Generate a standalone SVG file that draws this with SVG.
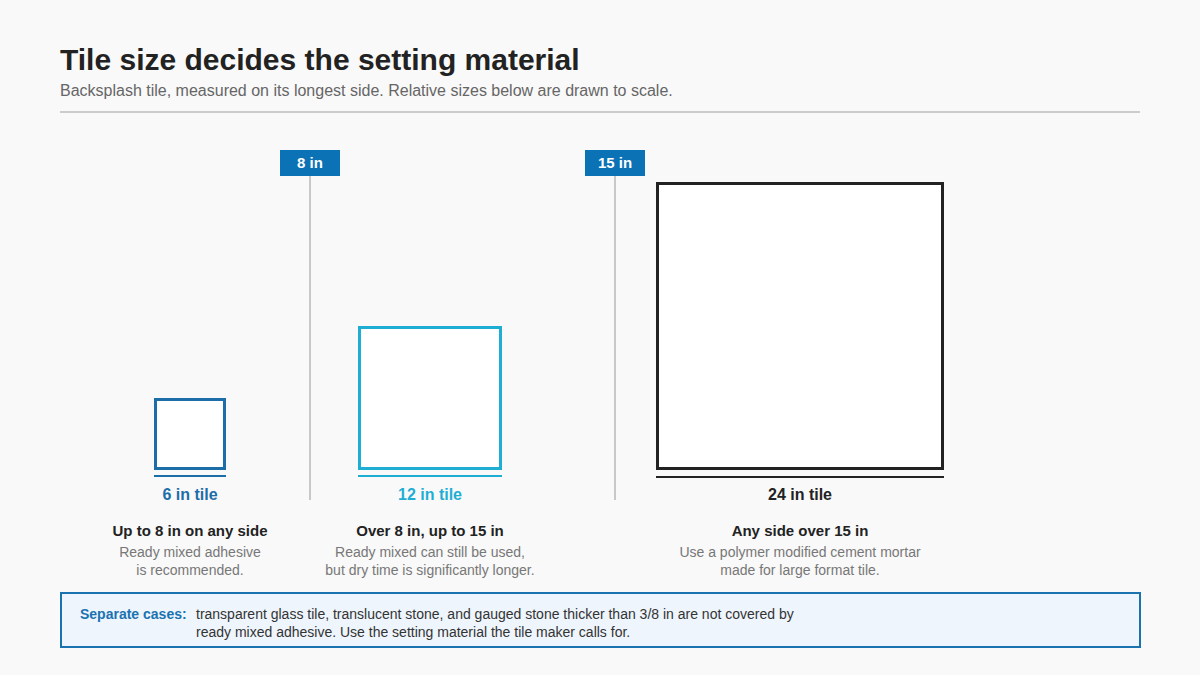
<svg xmlns="http://www.w3.org/2000/svg" width="1200" height="675" viewBox="0 0 1200 675">
<style>
text{font-family:"Liberation Sans",Arial,sans-serif}
.title{font-size:30px;font-weight:bold;fill:#222}
.sub{font-size:16px;fill:#666}
.badge{fill:#0b72b5}
.btxt{font-size:15px;font-weight:bold;fill:#fff;text-anchor:middle}
.mark{stroke:#c8c8c8;stroke-width:2}
.lab{font-size:16px;font-weight:bold;text-anchor:middle}
.head{font-size:15px;font-weight:bold;fill:#222;text-anchor:middle}
.desc{font-size:14px;fill:#777;text-anchor:middle}
.note{font-size:14px;fill:#333}
</style>
<rect width="1200" height="675" fill="#f9f9f9"/>
<text class="title" x="60" y="70">Tile size decides the setting material</text>
<text class="sub" x="60" y="96">Backsplash tile, measured on its longest side. Relative sizes below are drawn to scale.</text>
<line x1="60" y1="112" x2="1140" y2="112" stroke="#cccccc" stroke-width="2"/>
<g id="threshold-8">
<line class="mark" x1="310" y1="176" x2="310" y2="500"/>
<rect class="badge" x="280" y="150" width="60" height="26"/>
<text class="btxt" x="310" y="168">8 in</text>
</g>
<g id="threshold-15">
<line class="mark" x1="615" y1="176" x2="615" y2="500"/>
<rect class="badge" x="585" y="150" width="60" height="26"/>
<text class="btxt" x="615" y="168">15 in</text>
</g>
<g id="tile-6">
<rect x="155.5" y="399.5" width="69" height="69" fill="#fff" stroke="#1b6ea8" stroke-width="3"/>
<line x1="154" y1="476" x2="226" y2="476" stroke="#1b6ea8" stroke-width="2"/>
<text class="lab" x="190" y="500" fill="#1b6ea8">6 in tile</text>
<text class="head" x="190" y="536">Up to 8 in on any side</text>
<text class="desc" x="190" y="557">Ready mixed adhesive</text>
<text class="desc" x="190" y="575">is recommended.</text>
</g>
<g id="tile-12">
<rect x="359.5" y="327.5" width="141" height="141" fill="#fff" stroke="#1faed3" stroke-width="3"/>
<line x1="358" y1="476" x2="502" y2="476" stroke="#1faed3" stroke-width="2"/>
<text class="lab" x="430" y="500" fill="#1faed3">12 in tile</text>
<text class="head" x="430" y="536">Over 8 in, up to 15 in</text>
<text class="desc" x="430" y="557">Ready mixed can still be used,</text>
<text class="desc" x="430" y="575">but dry time is significantly longer.</text>
</g>
<g id="tile-24">
<rect x="657.5" y="183.5" width="285" height="285" fill="#fff" stroke="#222" stroke-width="3"/>
<line x1="656" y1="477" x2="944" y2="477" stroke="#222" stroke-width="2"/>
<text class="lab" x="800" y="500" fill="#222">24 in tile</text>
<text class="head" x="800" y="536">Any side over 15 in</text>
<text class="desc" x="800" y="557">Use a polymer modified cement mortar</text>
<text class="desc" x="800" y="575">made for large format tile.</text>
</g>
<g id="note">
<rect x="61" y="593" width="1079" height="54" fill="#eef5fd" stroke="#1a72b0" stroke-width="2"/>
<text class="note" x="80" y="619" font-weight="bold" style="fill:#1a72b0">Separate cases:</text>
<text class="note" x="196" y="619">transparent glass tile, translucent stone, and gauged stone thicker than 3/8 in are not covered by</text>
<text class="note" x="196" y="637">ready mixed adhesive. Use the setting material the tile maker calls for.</text>
</g>
<g id="connectors"></g>
</svg>
